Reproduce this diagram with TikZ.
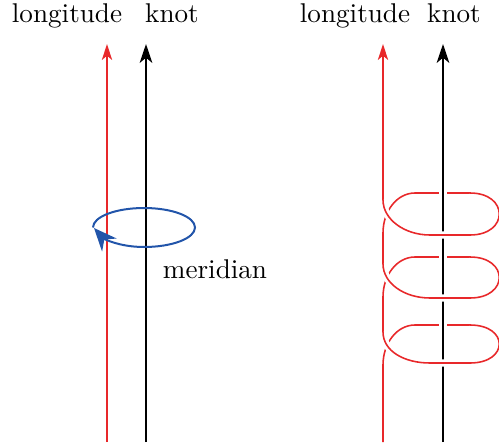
\documentclass[tikz,border=0pt]{standalone}
\usetikzlibrary{arrows.meta}
\definecolor{lonred}{RGB}{232,40,42}
\definecolor{merblue}{RGB}{34,85,170}
\tikzset{
  toplabel/.style={font=\fontsize{9.5pt}{11pt}\selectfont, anchor=base, inner sep=0pt},
  knotline/.style={line width=0.8pt, -{Stealth[length=6.6pt,width=4.4pt,inset=1.8pt]}},
  lonline/.style={lonred, line width=0.55pt},
  lonarrow/.style={lonline, -{Stealth[length=5.6pt,width=3.6pt,inset=1.5pt]}},
  overpass/.style={preaction={draw,white,line width=2.6pt}},
  merline/.style={merblue, line width=0.7pt, -{Stealth[length=8pt,width=6.8pt,inset=2.6pt]}}
}
\begin{document}
\begin{tikzpicture}[x=0.35pt, y=-0.35pt]
  \useasboundingbox (0,0) rectangle (499,446);
  % labels
  \node[toplabel] (lon1) at (67,23) {longitude};
  \node[toplabel] (knot1) at (172,23) {knot};
  \node[toplabel] (lon2) at (355,23) {longitude};
  \node[toplabel] (knot2) at (454,23) {knot};
  \node[toplabel] (mer) at (215,278) {meridian};

  % left: meridian around the knot
  \coordinate (r1b) at (107,442); \coordinate (r1t) at (107,44);
  \coordinate (k1b) at (146,442); \coordinate (k1t) at (146,44);
  \draw[lonarrow] (r1b) -- (r1t);
  \draw[knotline] (k1b) -- (k1t);
  \draw[merline] (93,227.5) .. controls (93,216.7) and (115.8,208) .. (144,208)
    .. controls (172.2,208) and (195,216.7) .. (195,227.5)
    .. controls (195,238.3) and (172.2,247) .. (144,247)
    .. controls (118,247) and (103,238) .. (94,228);

  % right: longitude wound round the knot
  \coordinate (r2b) at (383,442); \coordinate (r2t) at (383,44);
  \coordinate (k2b) at (443,442); \coordinate (k2t) at (443,44);
  \draw[lonarrow] (383,200) -- (r2t);
  \foreach \t/\n in {193/257, 257/325, 325/435}
    \draw[lonline] (470,\t) -- (415,\t) .. controls (397,\t) and (383,\t+18) .. (383,\t+40) -- (383,\n+7);
  \draw[knotline, overpass] (k2b) -- (k2t);
  \foreach \t/\b in {193/235, 257/298, 325/363}
    \draw[lonline, overpass] (383,\t+7) .. controls (383,\t+26) and (404,\b) .. (430,\b)
      -- (470,\b) .. controls (509,\b) and (509,\t) .. (470,\t);
\end{tikzpicture}
\end{document}
